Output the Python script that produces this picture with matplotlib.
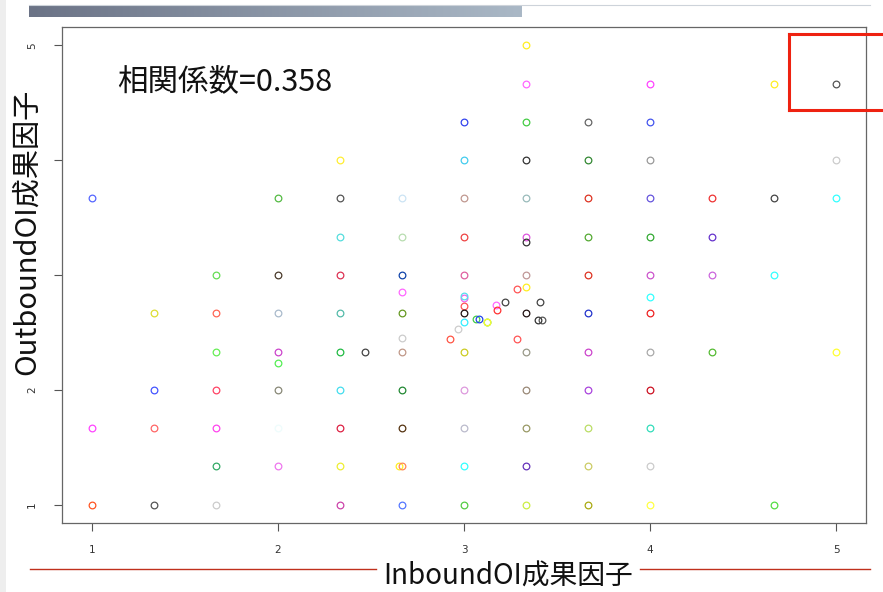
import numpy as np
import matplotlib.pyplot as plt
from matplotlib.colors import LinearSegmentedColormap
from matplotlib.patches import Rectangle

plt.rcParams['font.family'] = ['Noto Sans CJK JP', 'DejaVu Sans']

##### DATA #####
# InboundOI / OutboundOI factor scores
inbound = [
    3.333,
    3.333, 4.0, 4.667, 5.0,
    3.0, 3.333, 3.667, 4.0,
    2.333, 3.0, 3.333, 3.667, 4.0, 5.0,
    1.0, 2.0, 2.333, 2.667, 3.0, 3.333, 3.667, 4.0, 4.333, 4.667, 5.0,
    2.333, 2.667, 3.0, 3.333, 3.333, 3.667, 4.0, 4.333,
    1.667, 2.0, 2.333, 2.667, 3.0, 3.333, 3.667, 4.0, 4.333, 4.667,
    2.667, 3.0, 3.0, 3.0, 3.0, 3.0, 2.97, 2.925, 2.667, 2.667, 3.066, 3.08,
    3.126, 3.126, 3.17, 3.177, 3.22, 3.283, 3.333, 3.333, 3.283, 3.41, 3.40, 3.42, 4.0,
    1.333, 1.667, 2.0, 2.333, 3.667, 4.0,
    1.667, 2.0, 2.0, 2.333, 2.47, 2.667, 3.0, 3.333, 3.667, 4.0, 4.333, 5.0,
    1.333, 1.667, 2.0, 2.333, 2.667, 3.0, 3.333, 3.667, 4.0,
    1.0, 1.333, 1.667, 2.0, 2.333, 2.667, 3.0, 3.333, 3.667, 4.0,
    1.667, 2.0, 2.333, 2.65, 2.667, 3.0, 3.333, 3.667, 4.0,
    1.0, 1.333, 1.667, 2.333, 2.667, 3.0, 3.333, 3.667, 4.0, 4.667,
]
outbound = [
    5.0,
    4.667, 4.667, 4.667, 4.667,
    4.333, 4.333, 4.333, 4.333,
    4.0, 4.0, 4.0, 4.0, 4.0, 4.0,
    3.667, 3.667, 3.667, 3.667, 3.667, 3.667, 3.667, 3.667, 3.667, 3.667, 3.667,
    3.333, 3.333, 3.333, 3.333, 3.29, 3.333, 3.333, 3.333,
    3.0, 3.0, 3.0, 3.0, 3.0, 3.0, 3.0, 3.0, 3.0, 3.0,
    2.848, 2.80, 2.815, 2.727, 2.667, 2.594, 2.53, 2.44, 2.667, 2.455, 2.62, 2.617,
    2.594, 2.594, 2.74, 2.695, 2.764, 2.877, 2.894, 2.667, 2.44, 2.764, 2.61, 2.61, 2.81,
    2.667, 2.667, 2.667, 2.667, 2.667, 2.667,
    2.333, 2.333, 2.235, 2.333, 2.333, 2.333, 2.333, 2.333, 2.333, 2.333, 2.333, 2.333,
    2.0, 2.0, 2.0, 2.0, 2.0, 2.0, 2.0, 2.0, 2.0,
    1.667, 1.667, 1.667, 1.667, 1.667, 1.667, 1.667, 1.667, 1.667, 1.667,
    1.333, 1.333, 1.333, 1.333, 1.333, 1.333, 1.333, 1.333, 1.333,
    1.0, 1.0, 1.0, 1.0, 1.0, 1.0, 1.0, 1.0, 1.0, 1.0,
]
point_colors = [
    '#ffee22',
    '#ff66ff', '#ff44ff', '#ffee22', '#555555',
    '#3344ee', '#44cc44', '#666666', '#4455ee',
    '#ffee33', '#44ccee', '#333333', '#338833', '#999999', '#cccccc',
    '#5566ff', '#55bb44', '#555555', '#cce4f4', '#c09890', '#99bbbb', '#dd3322', '#6655dd', '#ee3333', '#444444', '#33ffff',
    '#55dddd', '#b8ddb0', '#ee4444', '#dd55dd', '#333333', '#55aa33', '#33aa33', '#6633cc',
    '#66dd55', '#4a3a2a', '#dd3355', '#1144aa', '#e060a0', '#c09898', '#dd3322', '#cc55cc', '#cc66dd', '#33ffff',
    '#ff66ff', '#ee66ee', '#55ddee', '#ff5555', '#221111', '#33eeff', '#cccccc', '#ff5544', '#669922', '#cccccc', '#44cc44', '#2244ee',
    '#44cc44', '#ffff33', '#ff66ff', '#ff3333', '#444444', '#ff5555', '#ffee22', '#221111', '#ff5555', '#444444', '#333333', '#555555', '#33ffff',
    '#dddd33', '#ff6655', '#aabbcc', '#55bbaa', '#2233cc', '#ee2222',
    '#66ee55', '#cc44cc', '#55ee55', '#22bb44', '#444444', '#c09888', '#cccc22', '#999988', '#cc44cc', '#aaaaaa', '#55bb33', '#ffff33',
    '#4455ff', '#ff4466', '#888877', '#44ddee', '#228833', '#dd99dd', '#998877', '#aa44dd', '#cc1122',
    '#ff44ff', '#ff6666', '#ff44ee', '#eefcfc', '#dd2244', '#553311', '#bbbbcc', '#999966', '#bbdd66', '#33ddbb',
    '#33aa66', '#ee77ee', '#eeee33', '#ffee22', '#ff8855', '#33ffff', '#6633bb', '#cccc66', '#cccccc',
    '#ff5522', '#555555', '#cccccc', '#cc44aa', '#5577ff', '#55cc44', '#ccee44', '#aaaa11', '#ffff44', '#55dd44',
]
ticks = [1, 2, 3, 4, 5]
corr_text = '相関係数=0.358'
xlabel = 'InboundOI成果因子'
ylabel = 'OutboundOI成果因子'

##### PLOT #####
W, H = 883, 592
fig = plt.figure(figsize=(W / 100, H / 100), dpi=100)

# slide background decorations, in pixel coordinates
deco = fig.add_axes([0, 0, 1, 1], zorder=0)
deco.set_xlim(0, W)
deco.set_ylim(H, 0)
deco.axis('off')
deco.add_patch(Rectangle((0, 0), 6, H, color='#eeeeee', lw=0))
grad = np.linspace(0, 1, 256).reshape(1, -1)
cmap = LinearSegmentedColormap.from_list('bar', ['#6b7386', '#aab8c6'])
deco.imshow(grad, extent=[29, 522, 17, 5], cmap=cmap, aspect='auto')
deco.plot([29, 870], [5, 5], color='#cdd3da', lw=0.8)
deco.plot([30, 376], [569, 569], color='#c0301c', lw=1.0)
deco.plot([640, 870], [569, 569], color='#c0301c', lw=1.0)

# scatter
ax = fig.add_axes([62 / W, 1 - 523 / H, (866 - 62) / W, (523 - 27) / H], zorder=1)
ax.patch.set_alpha(0)
for xi, yi, c in zip(inbound, outbound, point_colors):
    ax.plot(xi, yi, 'o', mfc='none', mec=c, ms=4.8, mew=0.9)

ax.set_xlim(0.84, 5.16)
ax.set_ylim(0.84, 5.16)
ax.set_xticks(ticks)
ax.set_yticks(ticks)
ax.set_xticklabels([str(t) for t in ticks], fontsize=7.5, color='#333333', family='DejaVu Sans')
ax.set_yticklabels([str(t) for t in ticks], fontsize=7.5, color='#333333', family='DejaVu Sans',
                   rotation=90, va='center')
ax.tick_params(axis='x', length=6, width=0.8, color='#555555', pad=10)
ax.tick_params(axis='y', length=6, width=0.8, color='#555555', pad=12)
for s in ax.spines.values():
    s.set_color('#666666')
    s.set_linewidth(0.9)

# texts and hand-drawn highlight on top
over = fig.add_axes([0, 0, 1, 1], zorder=5)
over.set_xlim(0, W)
over.set_ylim(H, 0)
over.axis('off')
over.text(117, 82, corr_text, fontsize=22, ha='left', va='center', color='#111111')
over.text(508, 577, xlabel, fontsize=20, ha='center', va='center', color='#111111')
over.text(27, 232, ylabel, fontsize=21, ha='center', va='center', rotation=90, color='#111111',
          bbox=dict(facecolor='white', edgecolor='none', pad=1))
over.plot([789, 883], [34, 34], color='#ee2211', lw=2.2)
over.plot([789, 789], [34, 110], color='#ee2211', lw=2.2)
over.plot([789, 883], [110, 110], color='#ee2211', lw=2.2)

fig.savefig('out.png', dpi=100)
